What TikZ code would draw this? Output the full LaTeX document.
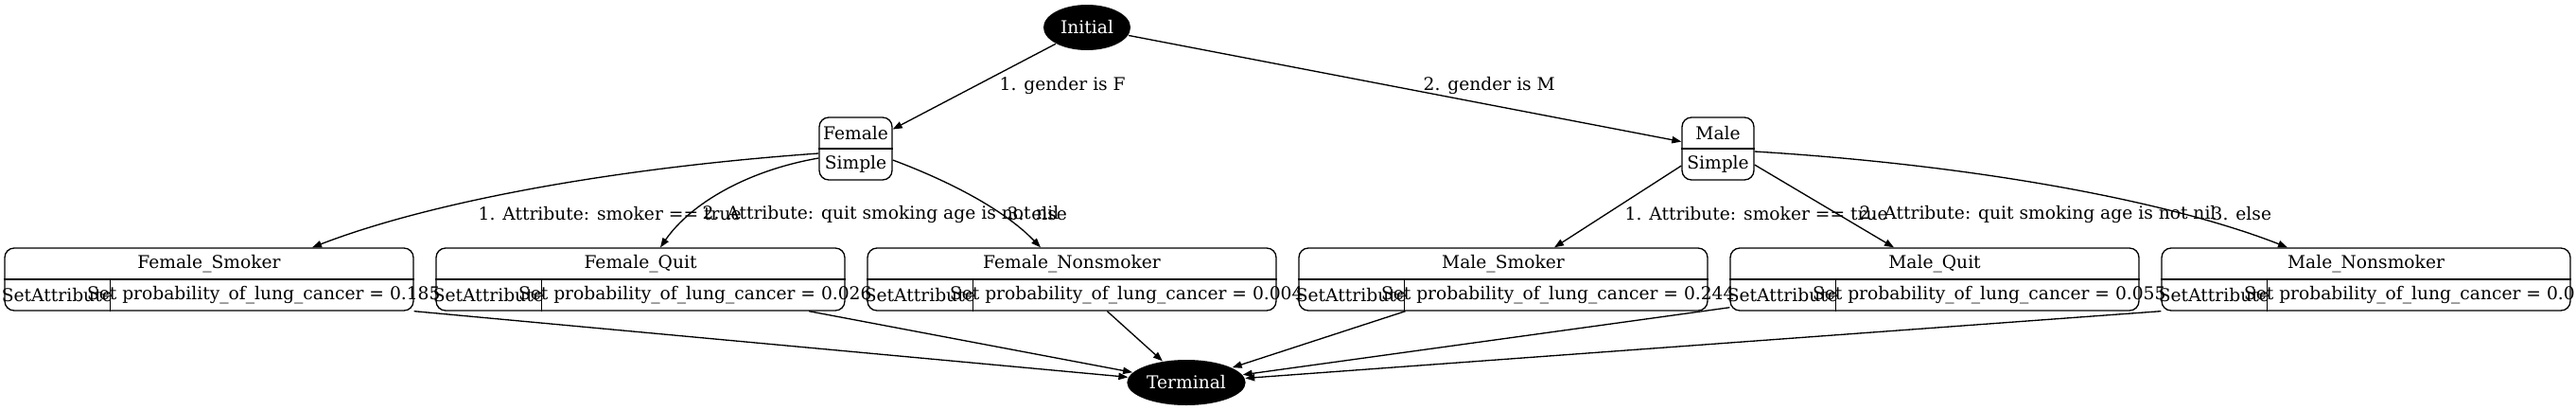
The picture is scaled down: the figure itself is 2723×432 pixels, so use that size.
\documentclass[tikz,border=0pt]{standalone}
\usepackage{fontspec}
\setmainfont{DejaVu Serif}
\usetikzlibrary{arrows.meta,calc,shapes.geometric}

\begin{document}
\begin{tikzpicture}[x=0.75pt,y=-0.75pt,line width=1pt,
		font=\fontsize{14}{16}\selectfont,
		state/.style={ellipse,fill=black,text=white,minimum height=36pt,inner sep=0pt},
		rec/.style={draw,rounded corners=7.5pt,inner sep=0pt,minimum height=49.5pt},
		lbl/.style={inner sep=0pt,anchor=west},
		edge/.style={-{Triangle[length=7.5pt,width=5.5pt]}}]
		\useasboundingbox (0,0) rectangle (2723,432);
		
		\node[state,minimum width=69pt] (init) at (1149,29) {Initial};
		\node[state,minimum width=94pt] (term) at (1254,404) {Terminal};
		
		% the two gender records
		\node[rec,minimum width=57.75pt] (female) at (904.5,157) {};
		\draw (female.west) -- (female.east);
		\node at ($(female.center)+(0,-16.5)$) {Female};
		\node at ($(female.center)+(0,16.5)$) {Simple};
		
		\node[rec,minimum width=57pt] (male) at (1816,157) {};
		\draw (male.west) -- (male.east);
		\node at ($(male.center)+(0,-16.5)$) {Male};
		\node at ($(male.center)+(0,16.5)$) {Simple};
		
		% the six result records
		\foreach \nm/\cx/\ttl/\val in {fsmoker/221/Female\_Smoker/0.185,fquit/677/Female\_Quit/0.026,
			fnon/1133/Female\_Nonsmoker/0.004,msmoker/1589/Male\_Smoker/0.244,
			mquit/2045/Male\_Quit/0.055,mnon/2501/Male\_Nonsmoker/0.0}
		{
			\node[rec,minimum width=324pt] (\nm) at (\cx,295) {};
			\draw (\nm.west) -- (\nm.east);
			\draw ($(\nm.west)+(112,0)$) -- ($(\nm.south west)+(112,0)$);
			\node at ($(\nm.center)+(0,-16.5)$) {\ttl};
			\node at ($(\nm.west)+(56,16.5)$) {SetAttribute};
			\node[lbl] at ($(\nm.west)+(87,16.5)$) {Set probability\_of\_lung\_cancer = \val};
		}
		
		\draw[edge] (init) -- (female);
		\draw[edge] (init) -- (male);
		\node[lbl] (gf) at (1056,90) {1. gender is F};
		\node[lbl] (gm) at (1504,90) {2. gender is M};
		
		\draw[edge] ($(female.west)+(0,5)$) .. controls (640,178) and (450,215) .. ($(fsmoker.north)+(109,0)$);
		\draw[edge] ($(female.west)+(0,10)$) .. controls (790,180) and (730,215) .. ($(fquit.north)+(21,0)$);
		\draw[edge] ($(female.east)+(0,12)$) .. controls (1000,190) and (1060,220) .. ($(fnon.north)+(-33,0)$);
		\node[lbl] (fa) at (505,226) {1. Attribute: smoker == true};
		\node[lbl] (fb) at (742,226) {2. Attribute: quit smoking age is not nil};
		\node[lbl] (fc) at (1064,226) {3. else};
		
		\draw[edge] ($(male.west)+(0,18)$) -- ($(msmoker.north)+(54,0)$);
		\draw[edge] ($(male.east)+(0,17)$) -- ($(mquit.north)+(-43,0)$);
		\draw[edge] ($(male.east)+(0,3)$) .. controls (2100,175) and (2300,215) .. ($(mnon.north)+(-83,0)$);
		\node[lbl] (ma) at (1717,226) {1. Attribute: smoker == true};
		\node[lbl] (mb) at (1965,226) {2. Attribute: quit smoking age is not nil};
		\node[lbl] (mc) at (2337,226) {3. else};
		
		\draw[edge] (fsmoker.south east) -- (term);
		\draw[edge] (fquit) -- (term);
		\draw[edge] (fnon) -- (term);
		\draw[edge] (msmoker) -- (term);
		\draw[edge] (mquit) -- (term);
		\draw[edge] (mnon.south west) -- (term);
\end{tikzpicture}
\end{document}
